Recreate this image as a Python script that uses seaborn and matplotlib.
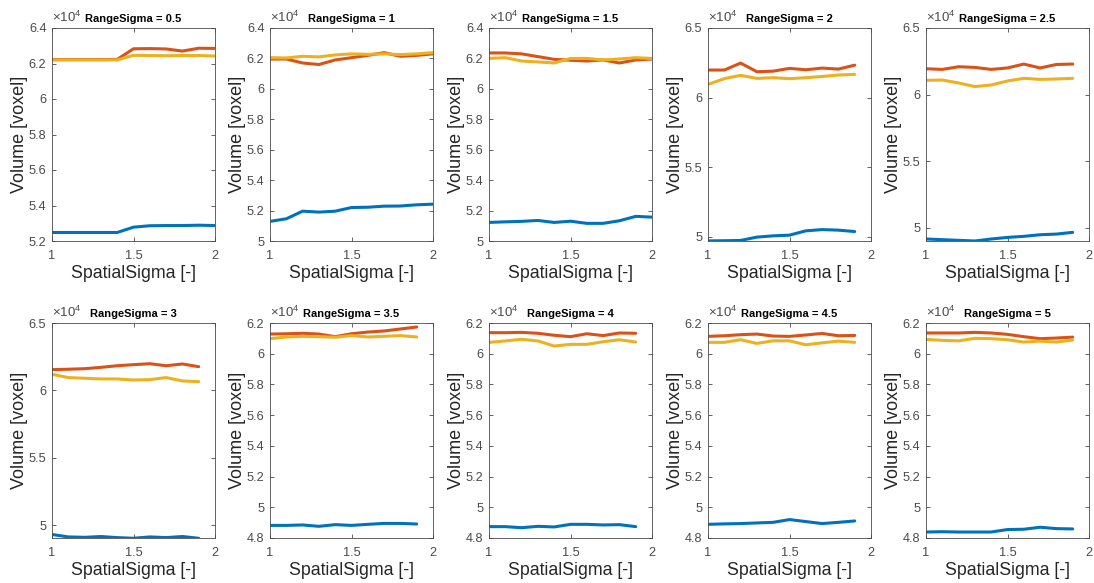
import numpy as np
import pandas as pd
import matplotlib
matplotlib.use("Agg")
import matplotlib.pyplot as plt
import seaborn as sns
from matplotlib.ticker import FuncFormatter, FixedLocator

# ---------------- data (voxels) ----------------
spatial_full = [1.0, 1.1, 1.2, 1.3, 1.4, 1.5, 1.6, 1.7, 1.8, 1.9, 2.0]
spatial_short = [1.0, 1.1, 1.2, 1.3, 1.4, 1.5, 1.6, 1.7, 1.8, 1.9]
range_sigmas = ["0.5", "1", "1.5", "2", "2.5", "3", "3.5", "4", "4.5", "5"]

rs05_blue = [52480, 52480, 52480, 52480, 52480, 52780, 52860, 52870, 52870, 52890, 52870]
rs05_red = [62220, 62220, 62220, 62220, 62230, 62830, 62840, 62820, 62700, 62860, 62850]
rs05_yellow = [62200, 62200, 62200, 62200, 62200, 62460, 62450, 62440, 62450, 62450, 62420]

rs1_blue = [51290, 51460, 51960, 51900, 51960, 52200, 52220, 52290, 52300, 52380, 52420]
rs1_red = [61960, 61960, 61700, 61600, 61900, 62050, 62200, 62380, 62140, 62200, 62300]
rs1_yellow = [62050, 62030, 62140, 62100, 62230, 62300, 62270, 62300, 62250, 62300, 62380]

rs15_blue = [51220, 51260, 51290, 51350, 51220, 51300, 51160, 51160, 51330, 51620, 51570]
rs15_red = [62360, 62360, 62300, 62120, 61940, 61880, 61830, 61900, 61700, 61900, 61960]
rs15_yellow = [62000, 62050, 61830, 61770, 61700, 62000, 62000, 61900, 61960, 62050, 62000]

rs2_blue = [49710, 49720, 49740, 49980, 50070, 50120, 50430, 50520, 50480, 50380]
rs2_red = [61980, 61980, 62480, 61860, 61900, 62100, 62000, 62120, 62050, 62330]
rs2_yellow = [60950, 61360, 61600, 61380, 61430, 61360, 61430, 61520, 61620, 61670]

rs25_blue = [49150, 49100, 49050, 49000, 49150, 49270, 49350, 49470, 49520, 49650]
rs25_red = [61940, 61890, 62090, 62040, 61890, 62000, 62290, 62000, 62260, 62290]
rs25_yellow = [61070, 61090, 60870, 60600, 60720, 61020, 61220, 61140, 61170, 61220]

rs3_blue = [49310, 49130, 49100, 49160, 49080, 49030, 49130, 49080, 49160, 49030]
rs3_red = [61540, 61570, 61610, 61710, 61830, 61910, 61980, 61830, 61960, 61760]
rs3_yellow = [61200, 60950, 60900, 60850, 60850, 60770, 60800, 60950, 60700, 60650]

rs35_blue = [48820, 48820, 48850, 48760, 48870, 48820, 48890, 48950, 48950, 48910]
rs35_red = [61280, 61300, 61330, 61280, 61110, 61300, 61410, 61480, 61610, 61740]
rs35_yellow = [60980, 61090, 61130, 61110, 61070, 61180, 61090, 61130, 61180, 61090]

rs4_blue = [48740, 48740, 48670, 48760, 48720, 48890, 48890, 48850, 48870, 48740]
rs4_red = [61370, 61370, 61390, 61330, 61200, 61110, 61300, 61180, 61350, 61330]
rs4_yellow = [60740, 60830, 60940, 60830, 60500, 60610, 60610, 60780, 60910, 60760]

rs45_blue = [48890, 48920, 48940, 48980, 49020, 49200, 49070, 48940, 49020, 49110]
rs45_red = [61130, 61170, 61240, 61280, 61150, 61130, 61220, 61320, 61170, 61190]
rs45_yellow = [60740, 60740, 60910, 60670, 60840, 60840, 60580, 60710, 60820, 60740]

rs5_blue = [48390, 48410, 48390, 48390, 48390, 48550, 48570, 48700, 48610, 48590]
rs5_red = [61350, 61350, 61350, 61390, 61350, 61260, 61110, 60980, 61020, 61080]
rs5_yellow = [60930, 60870, 60840, 61000, 60980, 60910, 60760, 60820, 60760, 60890]

panels = [
    (spatial_full, rs05_blue, rs05_red, rs05_yellow),
    (spatial_full, rs1_blue, rs1_red, rs1_yellow),
    (spatial_full, rs15_blue, rs15_red, rs15_yellow),
    (spatial_short, rs2_blue, rs2_red, rs2_yellow),
    (spatial_short, rs25_blue, rs25_red, rs25_yellow),
    (spatial_short, rs3_blue, rs3_red, rs3_yellow),
    (spatial_short, rs35_blue, rs35_red, rs35_yellow),
    (spatial_short, rs4_blue, rs4_red, rs4_yellow),
    (spatial_short, rs45_blue, rs45_red, rs45_yellow),
    (spatial_short, rs5_blue, rs5_red, rs5_yellow),
]

# y limits / ticks (x10^4)
ylims = [(5.2, 6.4), (5.0, 6.4), (5.0, 6.4), (4.97, 6.5), (4.9, 6.5),
         (4.905, 6.5), (4.8, 6.2), (4.8, 6.2), (4.8, 6.2), (4.8, 6.2)]
yticks = [
    [5.2, 5.4, 5.6, 5.8, 6.0, 6.2, 6.4],
    [5.0, 5.2, 5.4, 5.6, 5.8, 6.0, 6.2, 6.4],
    [5.0, 5.2, 5.4, 5.6, 5.8, 6.0, 6.2, 6.4],
    [5.0, 5.5, 6.0, 6.5],
    [5.0, 5.5, 6.0, 6.5],
    [5.0, 5.5, 6.0, 6.5],
    [4.8, 5.0, 5.2, 5.4, 5.6, 5.8, 6.0, 6.2],
    [4.8, 5.0, 5.2, 5.4, 5.6, 5.8, 6.0, 6.2],
    [4.8, 5.0, 5.2, 5.4, 5.6, 5.8, 6.0, 6.2],
    [4.8, 5.0, 5.2, 5.4, 5.6, 5.8, 6.0, 6.2],
]

colors = {"blue": "#0072BD", "red": "#D95319", "yellow": "#EDB120"}

# ---------------- style ----------------
sns.set_theme(style="ticks")
plt.rcParams["font.family"] = ["Liberation Sans", "DejaVu Sans"]
plt.rcParams["mathtext.fontset"] = "custom"
plt.rcParams["mathtext.rm"] = "Liberation Sans"
plt.rcParams["mathtext.it"] = "Liberation Sans:italic"

fig = plt.figure(figsize=(10.94, 5.83), dpi=100)
W, H = 1094, 583
lefts = [52, 270, 489, 708, 926]
width = 163
rows = [(28, 241), (323, 538)]

axis_gray = "#4a4a4a"
for i, (xs, b, r, yl) in enumerate(panels):
    row, col = divmod(i, 5)
    top, bot = rows[row]
    ax = fig.add_axes([lefts[col] / W, 1 - bot / H, width / W, (bot - top) / H])
    df = pd.DataFrame({
        "SpatialSigma": list(xs) * 3,
        "Volume": list(b) + list(r) + list(yl),
        "series": ["blue"] * len(xs) + ["red"] * len(xs) + ["yellow"] * len(xs),
    })
    sns.lineplot(data=df, x="SpatialSigma", y="Volume", hue="series",
                 palette=colors, linewidth=2.2, legend=False, ax=ax,
                 estimator=None, sort=False)
    ax.set_xlim(1, 2)
    ax.set_ylim(ylims[i][0] * 1e4, ylims[i][1] * 1e4)
    ax.xaxis.set_major_locator(FixedLocator([1, 1.5, 2]))
    ax.yaxis.set_major_locator(FixedLocator([t * 1e4 for t in yticks[i]]))
    ax.xaxis.set_major_formatter(FuncFormatter(lambda v, p: f"{v:g}"))
    ax.yaxis.set_major_formatter(FuncFormatter(lambda v, p: f"{round(v / 1e4, 3):g}"))
    ax.tick_params(direction="in", length=3, width=0.6, colors=axis_gray,
                   labelsize=9.2, top=True, right=True)
    ax.tick_params(axis="x", pad=6.5)
    ax.tick_params(axis="y", pad=4)
    for s in ax.spines.values():
        s.set_visible(True)
        s.set_color(axis_gray)
        s.set_linewidth(0.6)
    ax.set_xlabel("SpatialSigma [-]", fontsize=12.8, color="#262626", labelpad=2)
    ax.set_ylabel("Volume [voxel]", fontsize=13, color="#262626", labelpad=0.5)
    ax.set_title(f"RangeSigma = {range_sigmas[i]}", fontsize=8,
                 fontweight="bold", color="black", pad=4)
    ax.text(0.0, 1.012, r"$\times10^{4}$", transform=ax.transAxes,
            ha="left", va="bottom", fontsize=9.5, color=axis_gray)
    ax.grid(False)

fig.savefig("out.png", dpi=100, facecolor="white")
